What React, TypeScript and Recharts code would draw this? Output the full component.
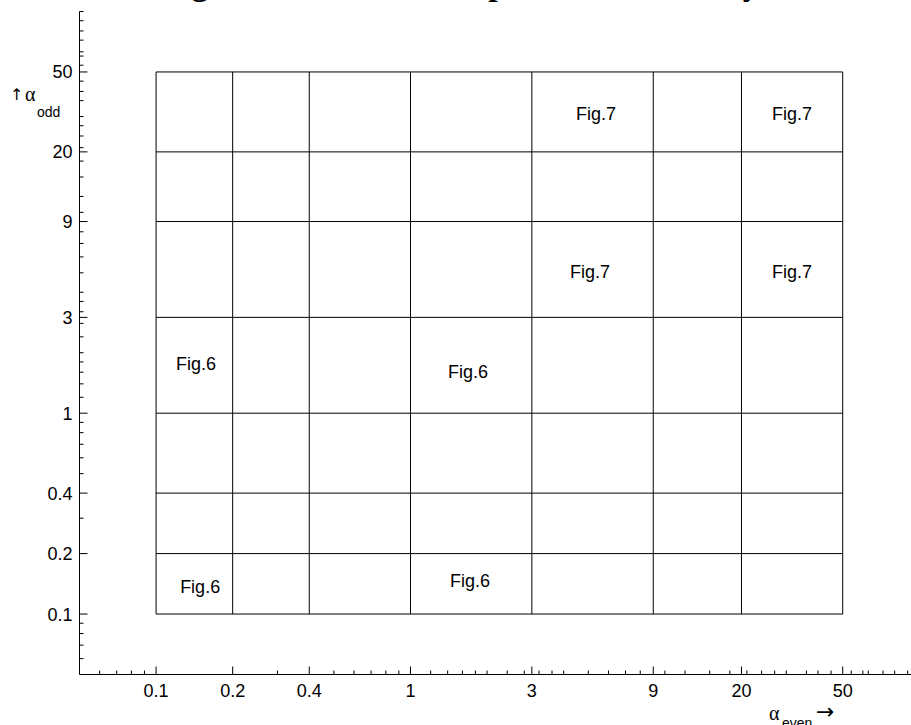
import React from 'react';
import { ScatterChart, Scatter, XAxis, YAxis, ReferenceLine } from 'recharts';

// ---------- data ----------
const xBounds = [0.1, 0.2, 0.4, 1, 3, 9, 20, 50];
const yBounds = [0.1, 0.2, 0.4, 1, 3, 9, 20, 50];
const majorTicks = [0.1, 0.2, 0.4, 1, 3, 9, 20, 50];
const minorTicks = [
  0.06, 0.07, 0.08, 0.09, 0.3, 0.5, 0.6, 0.7, 0.8, 0.9, 1.2, 1.4, 1.6, 1.8, 2, 2.4, 2.8, 3.2, 3.6, 4,
  5, 6, 7, 8, 10, 12, 15, 18, 21, 24, 27, 30, 36, 40, 45, 54, 60, 63, 72, 80, 90, 100,
];
const figLabels = [
  { x: 5.36, y: 31.2, label: 'Fig.7' },
  { x: 31.6, y: 31.2, label: 'Fig.7' },
  { x: 5.08, y: 5.05, label: 'Fig.7' },
  { x: 31.6, y: 5.05, label: 'Fig.7' },
  { x: 0.1436, y: 1.758, label: 'Fig.6' },
  { x: 1.683, y: 1.622, label: 'Fig.6' },
  { x: 0.149, y: 0.1364, label: 'Fig.6' },
  { x: 1.714, y: 0.1477, label: 'Fig.6' },
];
const titleStart = 'Regions of the whole α-';
const titleEnd = 'plane covered by them';
const xTitle = 'α';
const xTitleSub = 'even';
const yTitle = 'α';
const yTitleSub = 'odd';

const allTicks = [...majorTicks, ...minorTicks].sort((a, b) => a - b);
const SANS = '"Liberation Sans", Arial, Helvetica, sans-serif';

const XTick = (props: any) => {
  const { x, y, payload } = props;
  const v = payload.value;
  const major = majorTicks.includes(v);
  return (
    <g>
      <line x1={x} x2={x} y1={y} y2={y - (major ? 8 : 4)} stroke="#000" strokeWidth={1} />
      {major && (
        <text x={x} y={y + 22.5} textAnchor="middle" fontSize={18} fontFamily={SANS} fill="#000">
          {String(v)}
        </text>
      )}
    </g>
  );
};

const YTick = (props: any) => {
  const { x, y, payload } = props;
  const v = payload.value;
  const major = majorTicks.includes(v);
  return (
    <g>
      <line x1={x} x2={x + (major ? 8 : 4)} y1={y} y2={y} stroke="#000" strokeWidth={1} />
      {major && (
        <text x={x - 7} y={y + 6.5} textAnchor="end" fontSize={18} fontFamily={SANS} fill="#000">
          {String(v)}
        </text>
      )}
    </g>
  );
};

const LabelShape = (props: any) => {
  const { cx, cy, payload } = props;
  return (
    <text x={cx} y={cy + 6.5} textAnchor="middle" fontSize={18} fontFamily={SANS} fill="#000">
      {payload.label}
    </text>
  );
};

export default function App() {
  const x0 = xBounds[0];
  const x1 = xBounds[xBounds.length - 1];
  const y0 = yBounds[0];
  const y1 = yBounds[yBounds.length - 1];
  return (
    <div style={{ position: 'absolute', left: 0, top: 0, width: 911, height: 725, overflow: 'hidden', background: '#fff' }}>
      <ScatterChart width={930} height={725} margin={{ top: 11.5, right: 10.7, left: 19.5, bottom: 20.5 }}>
        <XAxis
          type="number"
          dataKey="x"
          scale="log"
          domain={[0.05, 100]}
          allowDataOverflow
          ticks={allTicks}
          interval={0}
          tickSize={0}
          tickMargin={0}
          tickLine={false}
          axisLine={{ stroke: '#000', strokeWidth: 1 }}
          tick={(p: any) => <XTick {...p} />}
          height={30}
        />
        <YAxis
          type="number"
          dataKey="y"
          scale="log"
          domain={[0.05, 100]}
          allowDataOverflow
          ticks={allTicks}
          interval={0}
          tickSize={0}
          tickMargin={0}
          tickLine={false}
          axisLine={{ stroke: '#000', strokeWidth: 1 }}
          tick={(p: any) => <YTick {...p} />}
          width={60}
        />
        {xBounds.map((xb, i) => (
          <ReferenceLine
            key={'v' + i}
            segment={[{ x: xb, y: y0 }, { x: xb, y: y1 }]}
            stroke="#000"
            strokeWidth={1}
            ifOverflow="visible"
          />
        ))}
        {yBounds.map((yb, i) => (
          <ReferenceLine
            key={'h' + i}
            segment={[{ x: x0, y: yb }, { x: x1, y: yb }]}
            stroke="#000"
            strokeWidth={1}
            ifOverflow="visible"
          />
        ))}
        <Scatter data={figLabels} isAnimationActive={false} shape={(p: any) => <LabelShape {...p} />} />
      </ScatterChart>
      <svg width={911} height={725} style={{ position: 'absolute', left: 0, top: 0, pointerEvents: 'none' }}>
        <text x={152} y={-5.5} fontSize={33.8} fontWeight="bold" fontFamily='"Liberation Serif", "Times New Roman", serif' fill="#000">
          {titleStart}
          <tspan style={{ wordSpacing: 14 }}>{titleEnd}</tspan>
        </text>
        <text x={10} y={100} fontSize={16} fontFamily='"DejaVu Sans", sans-serif' fill="#000">
          {'↑'}
        </text>
        <text x={25} y={101} fontSize={20} fontFamily='"Liberation Serif", serif' fill="#000">
          {yTitle}
        </text>
        <text x={37} y={117} fontSize={14} fontFamily={SANS} fill="#000">
          {yTitleSub}
        </text>
        <text x={769} y={720} fontSize={20} fontFamily='"Liberation Serif", serif' fill="#000">
          {xTitle}
        </text>
        <text x={782} y={728} fontSize={14} fontFamily={SANS} fill="#000">
          {xTitleSub}
        </text>
        <text x={816} y={719} fontSize={22} fontFamily='"DejaVu Sans", sans-serif' fill="#000">
          {'→'}
        </text>
      </svg>
    </div>
  );
}
